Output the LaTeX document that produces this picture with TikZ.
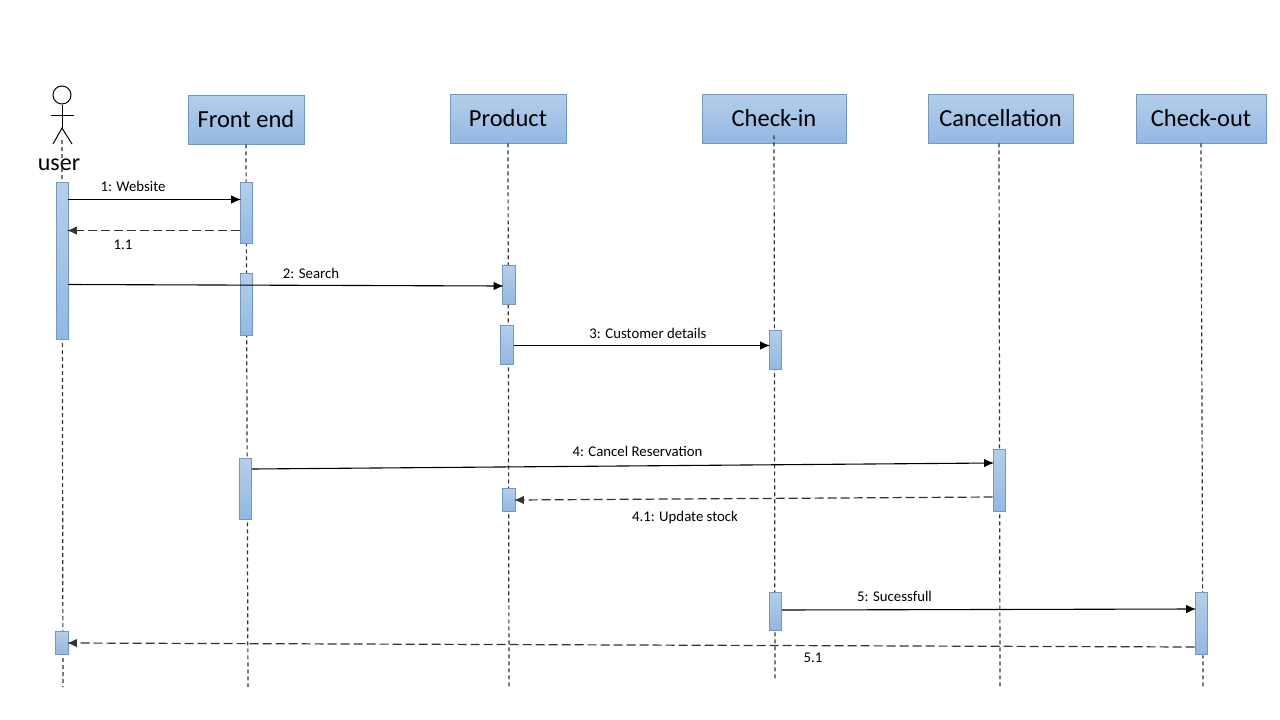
\documentclass[tikz,border=0pt]{standalone}
\usepackage{fontspec}
\setmainfont{Carlito}
\usetikzlibrary{arrows.meta}
\definecolor{blue1}{HTML}{B5CEEA}
\definecolor{blue2}{HTML}{93B8E2}
\definecolor{edge1}{HTML}{6D9BC5}
\tikzset{
    head/.style={draw=edge1,minimum height=49pt,inner sep=0pt,top color=blue1,bottom color=blue2,line width=0.9pt,font=\fontsize{24.5}{28}\selectfont},
    bar/.style={draw=edge1,minimum width=12pt,inner sep=0pt,top color=blue1,bottom color=blue2,line width=0.9pt},
    lifeline/.style={line width=1.2pt,dash pattern=on 4pt off 3pt,black!80},
    call/.style={-{Latex[length=10pt,width=8.5pt]},line width=1.1pt,shorten >=-1.5pt},
    reply/.style={-{Latex[length=10pt,width=8.5pt]},line width=1.2pt,dash pattern=on 9pt off 4pt,black!80,shorten >=-1.5pt},
    msg/.style={inner sep=0pt,font=\fontsize{14.8}{16}\selectfont},
    stick/.style={line width=1pt}
}
\begin{document}
\begin{tikzpicture}[x=1pt,y=-1pt]
    \useasboundingbox (0,0) rectangle (1280,720);

    % boxes
    \node[head,minimum width=116pt] (frontend) at (246,119.5){Front end};
    \node[head,minimum width=116pt] (product) at (508,118.5){Product};
    \node[head,minimum width=144pt] (checkin) at (774,118.5){Check-in};
    \node[head,minimum width=145pt] (cancel) at (1000.5,118.5){Cancellation};
    \node[head,minimum width=130pt] (checkout) at (1201,118.5){Check-out};

    % actor
    \node[draw,circle,minimum size=18pt,inner sep=0pt,line width=1pt] (userhead) at (62,95){};
    \coordinate (hip) at (62,128);
    \coordinate (arml) at (51,115);
    \coordinate (armr) at (74,115);
    \coordinate (legl) at (53,144);
    \coordinate (legr) at (72,144);
    \draw[stick](userhead.south)--(hip);
    \draw[stick](arml)--(armr);
    \draw[stick](legl)--(hip)--(legr);
    \node[font=\fontsize{24}{28}\selectfont,inner sep=0pt] (user) at (59,164.5){user};

    % lifelines
    \coordinate (usertop) at (62,140);
    \coordinate (userend) at (63,687);
    \coordinate (frontend0) at (248,687);
    \coordinate (product0) at (509,687);
    \coordinate (checkin0) at (775,680);
    \coordinate (cancel0) at (1000,687);
    \coordinate (checkout0) at (1203,687);
    \draw[lifeline](usertop)--(userend);
    \draw[lifeline](frontend.south)--(frontend0);
    \draw[lifeline](product.south)--(product0);
    \draw[lifeline]([yshift=8pt]checkin.south)--(checkin0);
    \draw[lifeline]([xshift=-1.5pt]cancel.south)--(cancel0);
    \draw[lifeline](checkout.south)--(checkout0);

    % activation bars
    \node[bar,minimum height=157pt] (usera) at (62,261){};
    \node[bar,minimum height=23pt,minimum width=13pt] (userb) at (61.5,642.5){};
    \node[bar,minimum height=61pt] (fronta) at (246,212.5){};
    \node[bar,minimum height=62pt] (frontb) at (246,304){};
    \node[bar,minimum height=61pt] (frontc) at (245.5,488.5){};
    \node[bar,minimum height=39pt,minimum width=13pt] (proda) at (509,284.5){};
    \node[bar,minimum height=39pt,minimum width=13pt] (prodb) at (507,344.5){};
    \node[bar,minimum height=23pt,minimum width=13pt] (prodc) at (508.5,499.5){};
    \node[bar,minimum height=39pt] (checka) at (775,349.5){};
    \node[bar,minimum height=38pt] (checkb) at (775.5,611){};
    \node[bar,minimum height=62pt] (cancela) at (999,480){};
    \node[bar,minimum height=62pt] (outa) at (1201,623){};

    % messages
    \draw[call]([yshift=61.5pt]usera.east)--([yshift=13pt]fronta.west);
    \draw[reply]([yshift=-18pt]fronta.west)--([yshift=30.5pt]usera.east);
    \draw[call]([yshift=-23.5pt]usera.east)--([yshift=-1.5pt]proda.west);
    \draw[call]([yshift=-1pt]prodb.east)--([yshift=4pt]checka.west);
    \draw[call]([yshift=19.5pt]frontc.east)--([yshift=17pt]cancela.west);
    \draw[reply]([yshift=-17pt]cancela.west)--([yshift=-0.5pt]prodc.east);
    \draw[call]([yshift=1pt]checkb.east)--([yshift=14pt]outa.west);
    \draw[reply]([yshift=-24pt]outa.west)--([yshift=-0.5pt]userb.east);

    % labels
    \node[msg] (m1) at (133,186.5){1: Website};
    \node[msg] (m11) at (123,244.5){1.1};
    \node[msg] (m2) at (311,273.5){2: Search};
    \node[msg] (m3) at (648,333.5){3: Customer details};
    \node[msg] (m4) at (637.5,451.5){4: Cancel Reservation};
    \node[msg] (m41) at (685,517.5){4.1: Update stock};
    \node[msg] (m5) at (894.5,596.5){5: Sucessfull};
    \node[msg] (m51) at (813,657.5){5.1};
\end{tikzpicture}
\end{document}
